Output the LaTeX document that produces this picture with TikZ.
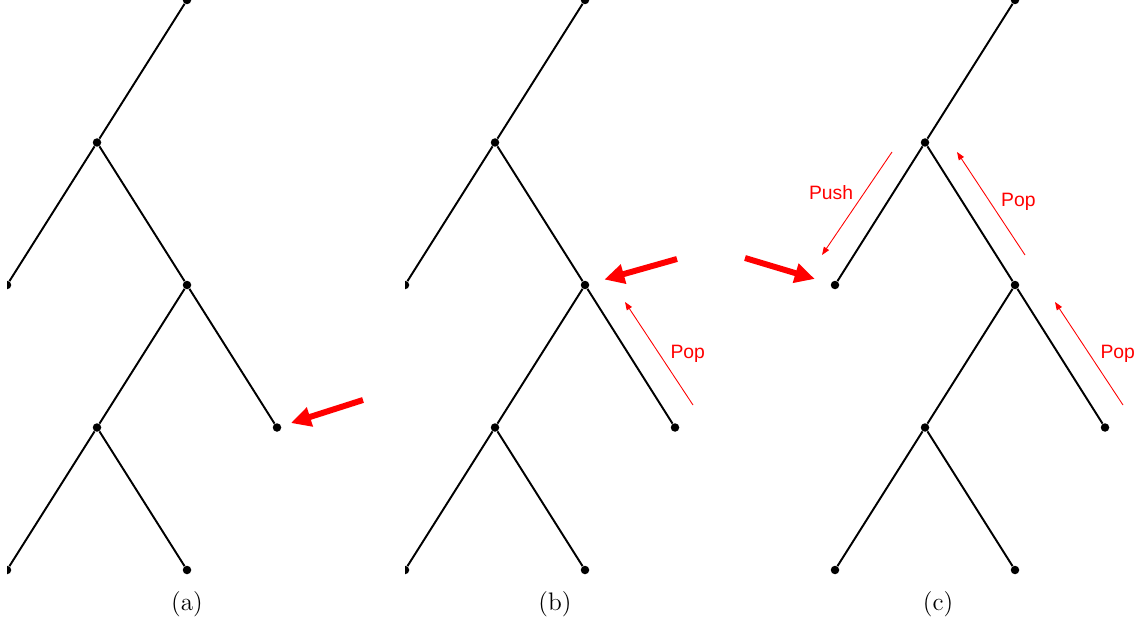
\documentclass[tikz,border=0pt]{standalone}
\usepackage{fontspec}
\newfontfamily\stackfont{Liberation Sans}
\usetikzlibrary{arrows.meta}
\tikzset{
  vertex/.style={circle,fill=black,inner sep=0pt,minimum size=1.7mm},
  branch/.style={line width=1.1pt},
  bigarrow/.style={red,line width=3.4pt,-{Triangle[length=4mm,width=3.8mm]}},
  stackarrow/.style={red,line width=.5pt,-{Triangle[length=1.6mm,width=1.2mm]}},
  stacklabel/.style={text=red,font=\stackfont\fontsize{11}{13}\selectfont},
}
\begin{document}
\begin{tikzpicture}
  \useasboundingbox (0,0) rectangle (22.68,-12.5);

  % one tree per panel, the left edge of (a) and (b) is cut off
  \foreach \p/\ox/\cx in {a/0.14/0.14, b/8.10/8.10, c/16.70/16.40}{
    \begin{scope}
      \clip (\cx,0) rectangle (\cx+7.6,-12.5);
      \begin{scope}[xshift=\ox cm]
        \node[vertex] (\p-top) at (3.6,0) {};
        \node[vertex] (\p-n1) at (1.8,-2.85) {};
        \node[vertex] (\p-l1) at (0,-5.7) {};
        \node[vertex] (\p-n2) at (3.6,-5.7) {};
        \node[vertex] (\p-n3) at (1.8,-8.55) {};
        \node[vertex] (\p-r3) at (5.4,-8.55) {};
        \node[vertex] (\p-l4) at (0,-11.4) {};
        \node[vertex] (\p-r4) at (3.6,-11.4) {};
        \draw[branch] (\p-top) -- (\p-n1) -- (\p-l1);
        \draw[branch] (\p-n1) -- (\p-n2) -- (\p-n3) -- (\p-l4);
        \draw[branch] (\p-n2) -- (\p-r3);
        \draw[branch] (\p-n3) -- (\p-r4);
      \end{scope}
    \end{scope}
  }

  % current position
  \coordinate (aIn) at (7.26,-8.00);
  \coordinate (bIn) at (13.54,-5.18);
  \coordinate (cIn) at (14.90,-5.16);
  \draw[bigarrow,shorten >=2mm] (aIn) -- (a-r3);
  \draw[bigarrow,shorten >=3.1mm] (bIn) -- (b-n2);
  \draw[bigarrow,shorten >=3.3mm] (cIn) -- (c-l1);

  % stack moves
  \coordinate (bPopS) at (13.86,-8.10);
  \coordinate (bPopE) at (12.50,-6.04);
  \coordinate (cPushS) at (17.84,-3.04);
  \coordinate (cPushE) at (16.44,-5.10);
  \coordinate (cPopS) at (20.50,-5.10);
  \coordinate (cPopE) at (19.14,-3.04);
  \coordinate (cPopLowS) at (22.46,-8.10);
  \coordinate (cPopLowE) at (21.10,-6.04);
  \draw[stackarrow] (bPopS) -- node[stacklabel,right=3pt] {Pop} (bPopE);
  \draw[stackarrow] (cPushS) -- node[stacklabel,pos=.39,left=3pt] {Push} (cPushE);
  \draw[stackarrow] (cPopS) -- node[stacklabel,pos=.52,right=3pt] {Pop} (cPopE);
  \draw[stackarrow] (cPopLowS) -- node[stacklabel,right=3pt] {Pop} (cPopLowE);

  \node[font=\Large] (capA) at (3.74,-12.08) {(a)};
  \node[font=\Large] (capB) at (11.10,-12.08) {(b)};
  \node[font=\Large] (capC) at (18.76,-12.08) {(c)};
\end{tikzpicture}
\end{document}
